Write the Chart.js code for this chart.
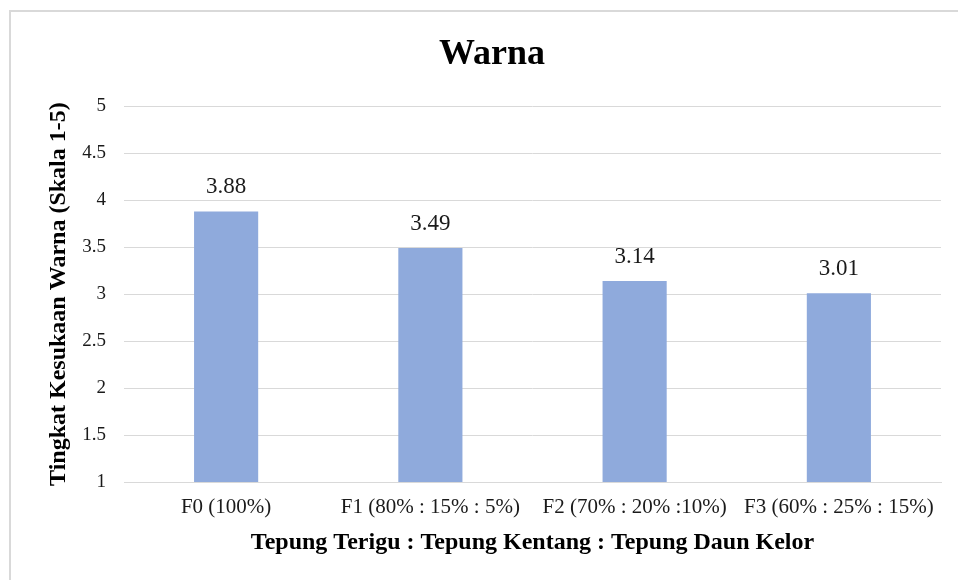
<!DOCTYPE html>
<html>
<head>
<meta charset="utf-8">
<script src="https://cdn.jsdelivr.net/npm/chart.js@4"></script>
<style>
  body { margin: 0; background: #fff; overflow: hidden; }
  #bingkai { position: absolute; left: 9px; top: 10px; width: 1000px; height: 600px;
             border-left: 2px solid #d9d9d9; border-top: 2px solid #d9d9d9; }
  #wadah { position: absolute; left: 0; top: 0; width: 984px; height: 580px; }
</style>
</head>
<body>
<div id="bingkai"></div>
<div id="wadah"><canvas id="grafikWarna"></canvas></div>
<script>
const kategori = ['F0 (100%)', 'F1 (80% : 15% : 5%)', 'F2 (70% : 20% :10%)', 'F3 (60% : 25% : 15%)'];
const nilaiWarna = [3.88, 3.49, 3.14, 3.01];
const labelNilai = ['3.88', '3.49', '3.14', '3.01'];

const hurufSerif = "'Liberation Serif', 'Times New Roman', serif";

// label angka di atas batang
const labelAtasBatang = {
  id: 'labelAtasBatang',
  afterDatasetsDraw(chart) {
    const ctx = chart.ctx;
    const meta = chart.getDatasetMeta(0);
    ctx.save();
    ctx.font = `23px ${hurufSerif}`;
    ctx.fillStyle = '#1a1a1a';
    ctx.textAlign = 'center';
    ctx.textBaseline = 'middle';
    meta.data.forEach((bar, i) => {
      ctx.fillText(labelNilai[i], bar.x, bar.y - 24);
    });
    ctx.restore();
  }
};

new Chart(document.getElementById('grafikWarna'), {
  type: 'bar',
  data: {
    labels: kategori,
    datasets: [{
      data: nilaiWarna,
      backgroundColor: '#8faadc',
      barPercentage: 0.314,
      categoryPercentage: 1
    }]
  },
  options: {
    responsive: true,
    maintainAspectRatio: false,
    animation: false,
    plugins: {
      legend: { display: false },
      tooltip: { enabled: false },
      title: {
        display: true,
        text: 'Warna',
        color: '#000',
        font: { family: hurufSerif, size: 36, weight: 'bold' },
        padding: { top: 33, bottom: 30 }
      }
    },
    scales: {
      x: {
        grid: { display: false, drawTicks: false },
        border: { color: '#d9d9d9' },
        ticks: {
          color: '#1a1a1a',
          font: { family: hurufSerif, size: 21 },
          padding: 13,
          maxRotation: 0,
          autoSkip: false
        },
        title: {
          display: true,
          text: 'Tepung Terigu : Tepung Kentang : Tepung Daun Kelor',
          color: '#000',
          font: { family: hurufSerif, size: 24, weight: 'bold' },
          padding: { top: 4, bottom: 23 }
        },
        afterFit(scale) { scale.height = 98; }
      },
      y: {
        min: 1,
        max: 5,
        grid: { color: '#d9d9d9', drawTicks: false },
        border: { display: false },
        ticks: {
          stepSize: 0.5,
          color: '#1a1a1a',
          font: { family: hurufSerif, size: 19 },
          padding: 18,
          callback: v => String(v)
        },
        title: {
          display: true,
          text: 'Tingkat Kesukaan Warna (Skala 1-5)',
          color: '#000',
          font: { family: hurufSerif, size: 24, weight: 'bold' },
          padding: { top: 44, bottom: 0 }
        },
        afterFit(scale) { scale.width = 124; }
      },
      // sumbu kosong di kanan supaya area plot berhenti di x=941
      kanan: {
        position: 'right',
        display: true,
        grid: { display: false, drawTicks: false },
        border: { display: false },
        ticks: { display: false },
        afterFit(scale) { scale.width = 43; }
      }
    }
  },
  plugins: [labelAtasBatang]
});
</script>
</body>
</html>
